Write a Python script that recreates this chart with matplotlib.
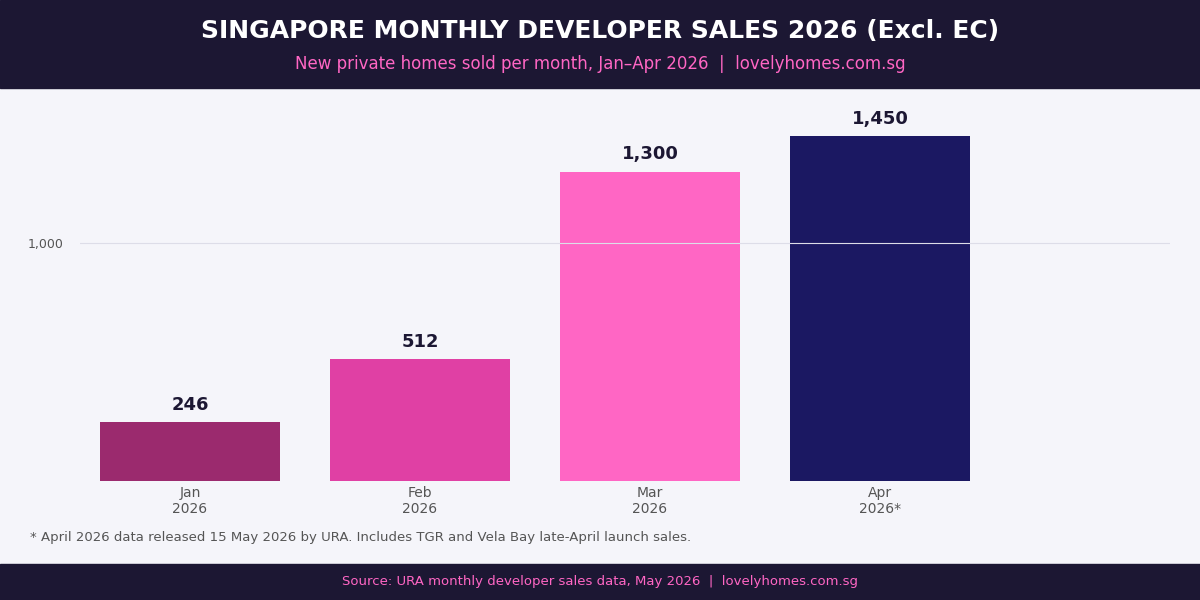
import matplotlib
matplotlib.use("Agg")
import matplotlib.pyplot as plt
from matplotlib.patches import Rectangle

months = ["Jan\n2026", "Feb\n2026", "Mar\n2026", "Apr\n2026*"]
sales = [246, 512, 1300, 1450]
colors = ["#9b2a6e", "#e040a4", "#ff66c4", "#1b1862"]
yticks = [1000]

fig = plt.figure(figsize=(12, 6), dpi=100)
fig.patch.set_facecolor("#f5f5fa")
fig.patches.append(Rectangle((0, 1 - 88/600), 1, 88/600, transform=fig.transFigure, color="#1c1733", zorder=0))
fig.patches.append(Rectangle((0, 0), 1, 36/600, transform=fig.transFigure, color="#1c1733", zorder=0))
fig.text(0.5, 1 - 31/600, "SINGAPORE MONTHLY DEVELOPER SALES 2026 (Excl. EC)", ha="center", va="center",
         color="white", fontsize=18, fontweight="bold")
fig.text(0.5, 1 - 64/600, "New private homes sold per month, Jan–Apr 2026  |  lovelyhomes.com.sg", ha="center",
         va="center", color="#ff66c4", fontsize=12)
fig.text(0.5, 18/600, "Source: URA monthly developer sales data, May 2026  |  lovelyhomes.com.sg", ha="center",
         va="center", color="#ff66c4", fontsize=9.5)
fig.text(30/1200, 1 - 538/600, "* April 2026 data released 15 May 2026 by URA. Includes TGR and Vela Bay late-April launch sales.",
         ha="left", va="center", color="#555555", fontsize=9.5)

ax = fig.add_axes([80/1200, 119/600, 1090/1200, 391/600])
ax.set_facecolor("#f5f5fa")
x = list(range(len(months)))
ax.bar(x, sales, width=0.783, color=colors, zorder=2)
for xi, v in zip(x, sales):
    ax.text(xi, v + 35, f"{v:,}", ha="center", va="bottom", fontsize=13, fontweight="bold", color="#1c1733", zorder=4)
ax.set_xlim(-0.478, 4.261)
ax.set_ylim(0, 1643)
ax.set_yticks(yticks)
ax.set_yticklabels([f"{t:,}" for t in yticks])
ax.yaxis.grid(True, color="#dddde8", linewidth=0.8, zorder=3)
ax.set_axisbelow(False)
ax.set_xticks(x)
ax.set_xticklabels(months)
ax.tick_params(axis="both", length=0, colors="#555555", labelsize=10)
ax.tick_params(axis="y", labelsize=9, pad=12)
for s in ax.spines.values():
    s.set_visible(False)

fig.savefig("out.png", dpi=100, facecolor=fig.get_facecolor())
